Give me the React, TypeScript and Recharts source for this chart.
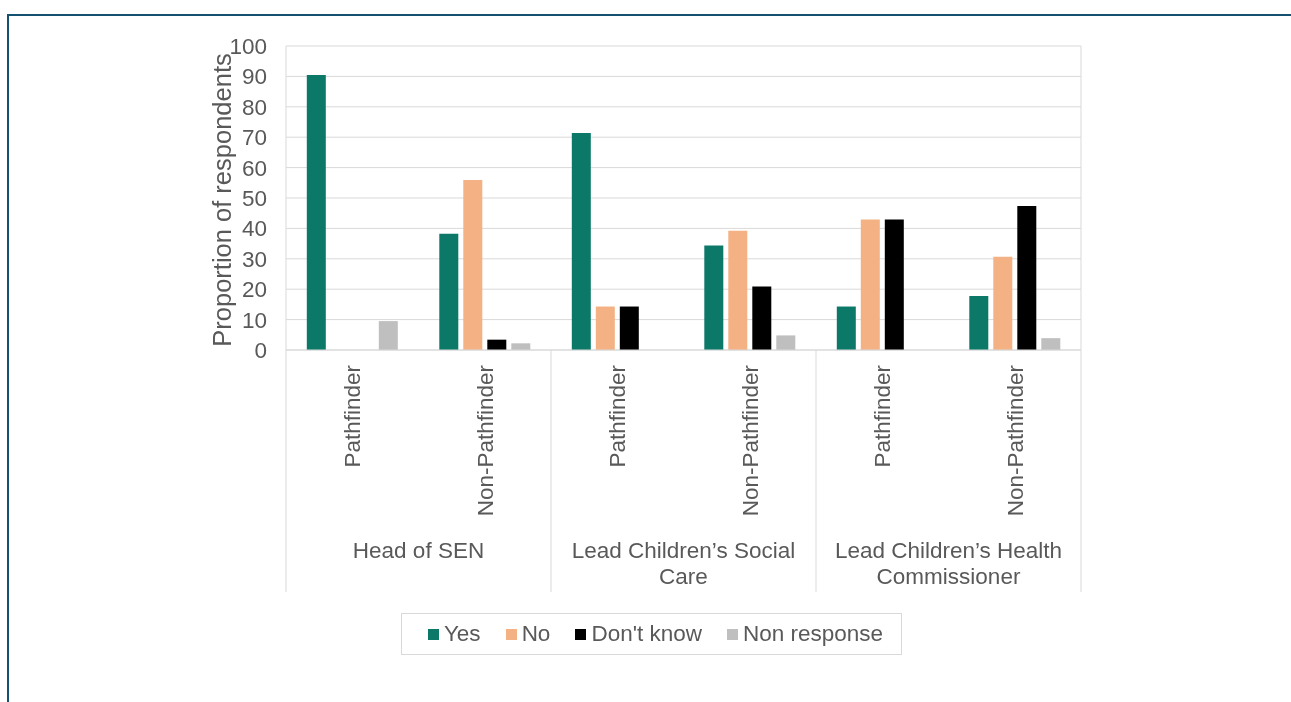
import React from 'react';
import { BarChart, Bar, XAxis, YAxis, CartesianGrid, Legend, Label } from 'recharts';

const subCategories = ['Pathfinder', 'Non-Pathfinder', 'Pathfinder', 'Non-Pathfinder', 'Pathfinder', 'Non-Pathfinder'];
const groupNames = ['Head of SEN', 'Lead Children’s Social Care', 'Lead Children’s Health Commissioner'];
const groupLabelLines = [['Head of SEN'], ['Lead Children’s Social', 'Care'], ['Lead Children’s Health', 'Commissioner']];
const groupIndex = [0, 0, 1, 1, 2, 2];

const yesValues = [90.5, 38.2, 71.4, 34.4, 14.3, 17.8];
const noValues = [0, 55.9, 14.3, 39.2, 42.9, 30.7];
const dontKnowValues = [0, 3.4, 14.3, 20.9, 42.9, 47.4];
const nonResponseValues = [9.5, 2.2, 0, 4.8, 0, 3.9];

const yTicks = [0, 10, 20, 30, 40, 50, 60, 70, 80, 90, 100];

const series = [
  { key: 'yes', name: 'Yes', color: '#0b7868' },
  { key: 'no', name: 'No', color: '#f4b183' },
  { key: 'dontKnow', name: "Don't know", color: '#000000' },
  { key: 'nonResponse', name: 'Non response', color: '#bfbfbf' },
];

const FONT = '"Liberation Sans", Arial, sans-serif';
const TEXT = '#595959';
const GRID = '#d9d9d9';

const data = subCategories.map((sub, i) => ({
  key: `${groupNames[groupIndex[i]]}|${sub}|${i}`,
  sub,
  group: groupIndex[i],
  yes: yesValues[i],
  no: noValues[i],
  dontKnow: dontKnowValues[i],
  nonResponse: nonResponseValues[i],
}));

const CategoryTick = (props: any) => {
  const { x, y, payload } = props;
  const i = payload?.index ?? props.index ?? 0;
  const half = payload?.offset ?? 795 / data.length / 2;
  const row = data[i];
  const first = i === 0 || data[i - 1].group !== row.group;
  const last = i === data.length - 1;
  let count = 0;
  for (let j = i; j < data.length && data[j].group === row.group; j++) count++;
  const cx = x - half + count * half;
  return (
    <g>
      <text
        x={x}
        y={y + 15}
        transform={`rotate(-90, ${x}, ${y + 15})`}
        textAnchor="end"
        dy="0.36em"
        fontSize={22.5}
        fontFamily={FONT}
        fill={TEXT}
      >
        {row.sub}
      </text>
      {first && <line x1={x - half} x2={x - half} y1={y} y2={y + 242} stroke={GRID} />}
      {last && <line x1={x + half} x2={x + half} y1={y} y2={y + 242} stroke={GRID} />}
      {first && (
        <text x={cx} y={y + 208} textAnchor="middle" fontSize={22.5} fontFamily={FONT} fill={TEXT}>
          {groupLabelLines[row.group].map((line, k) => (
            <tspan key={k} x={cx} dy={k === 0 ? 0 : 26}>
              {line}
            </tspan>
          ))}
        </text>
      )}
    </g>
  );
};

const YTitle = (props: any) => {
  const vb = props.viewBox;
  const cx = vb.x + vb.width - 55;
  const cy = vb.y + vb.height / 2 + 2;
  return (
    <text
      x={cx}
      y={cy}
      transform={`rotate(-90, ${cx}, ${cy})`}
      textAnchor="middle"
      fontSize={25.5}
      fontFamily={FONT}
      fill={TEXT}
    >
      Proportion of respondents
    </text>
  );
};

const LegendBox = () => (
  <div
    style={{
      boxSizing: 'border-box',
      width: '100%',
      height: '100%',
      border: `1px solid ${GRID}`,
      display: 'flex',
      alignItems: 'center',
      justifyContent: 'center',
      paddingLeft: 8,
      gap: 25,
      fontFamily: FONT,
      fontSize: 22.5,
      color: TEXT,
    }}
  >
    {series.map((s) => (
      <div key={s.key} style={{ display: 'flex', alignItems: 'center', gap: 5 }}>
        <span style={{ width: 11, height: 11, background: s.color, display: 'inline-block' }} />
        <span>{s.name}</span>
      </div>
    ))}
  </div>
);

export default function App() {
  return (
    <div style={{ position: 'relative', width: 1275, height: 686 }}>
      <div
        style={{
          position: 'fixed',
          left: 7,
          top: 14,
          right: -20,
          bottom: -20,
          borderTop: '2px solid #14506f',
          borderLeft: '2px solid #14506f',
          pointerEvents: 'none',
        }}
      />
      <BarChart
        width={1275}
        height={686}
        data={data}
        margin={{ top: 38, right: 201, left: 0, bottom: 102 }}
        barCategoryGap="15.7%"
        barGap={5}
        style={{ position: 'absolute', left: 0, top: 0 }}
      >
        <CartesianGrid horizontal vertical={false} stroke={GRID} />
        <XAxis
          dataKey="key"
          height={242}
          interval={0}
          tickLine={false}
          tickSize={0}
          tickMargin={0}
          axisLine={{ stroke: GRID }}
          tick={<CategoryTick />}
        />
        <YAxis
          width={278}
          domain={[0, 100]}
          ticks={yTicks}
          interval={0}
          tickLine={false}
          tickSize={6}
          tickMargin={13}
          axisLine={{ stroke: GRID }}
          tick={{ fontSize: 22.5, fontFamily: FONT, fill: TEXT }}
        >
          <Label content={<YTitle />} />
        </YAxis>
        <YAxis
          yAxisId="right"
          orientation="right"
          width={1}
          domain={[0, 100]}
          tick={false}
          tickLine={false}
          axisLine={{ stroke: GRID }}
        />
        {series.map((s) => (
          <Bar key={s.key} dataKey={s.key} name={s.name} fill={s.color} isAnimationActive={false} />
        ))}
        <Legend
          layout="horizontal"
          verticalAlign="middle"
          align="center"
          content={<LegendBox />}
          wrapperStyle={{ left: 393, top: 605, width: 501, height: 42, bottom: 'auto', right: 'auto' }}
        />
      </BarChart>
    </div>
  );
}
